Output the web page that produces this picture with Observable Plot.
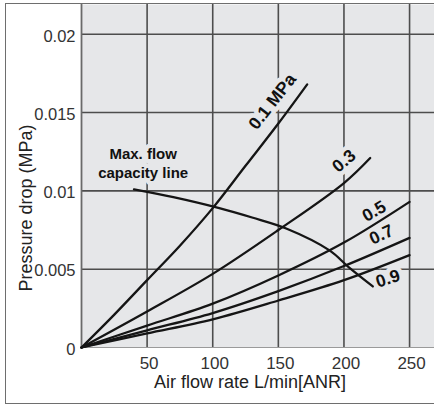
<!DOCTYPE html>
<html>
<head>
<meta charset="utf-8">
<script src="https://cdn.jsdelivr.net/npm/d3@7"></script>
<script src="https://cdn.jsdelivr.net/npm/@observablehq/plot@0.6"></script>
<style>
  html, body { margin: 0; padding: 0; background: #fff; }
  #wrap { position: relative; width: 434px; height: 406px; overflow: hidden; }
  #border { position: absolute; left: 5px; top: 3px; width: 440px; height: 399px;
            border: 1.5px solid #6e6e6e; pointer-events: none; }
</style>
</head>
<body>
<div id="wrap"><div id="chart"></div><div id="border"></div></div>
<script>
// ---- data ----
const xTicks = [50, 100, 150, 200, 250];
const yTicks = [0, 0.005, 0.01, 0.015, 0.02];

const flow01 = [0, 25, 50, 75, 100, 125, 150, 172];
const drop01 = [0, 0.0021, 0.0043, 0.0065, 0.0089, 0.0116, 0.0143, 0.0168];

const flow03 = [0, 50, 100, 150, 200, 220];
const drop03 = [0, 0.0023, 0.0047, 0.0075, 0.0105, 0.0121];

const flowHi = [0, 50, 100, 150, 200, 250];
const drop05 = [0, 0.0014, 0.0028, 0.0046, 0.0067, 0.0093];
const drop07 = [0, 0.0011, 0.0022, 0.0036, 0.0052, 0.0070];
const drop09 = [0, 0.0009, 0.0018, 0.0030, 0.0043, 0.0059];

const maxFlowX = [40, 70, 105, 130, 156, 189, 204, 222];
const maxFlowY = [0.0101, 0.0096, 0.0089, 0.0083, 0.0076, 0.0062, 0.0051, 0.0039];

const curveLabels = ["0.1 MPa", "0.3", "0.5", "0.7", "0.9"];
const curveLabelX = [145.5, 200, 223, 228.5, 233.5];
const curveLabelY = [0.0157, 0.0119, 0.0087, 0.0072, 0.0044];
const curveLabelAngle = [-52, -40, -30, -25, -18];

const maxFlowLabel = ["Max. flow\ncapacity line"];
const maxFlowLabelX = [47];
const maxFlowLabelY = [0.0118];

const xLabel = "Air flow rate L/min[ANR]";
const yLabel = "Pressure drop (MPa)";

// ---- build tables ----
const series = [
  ...flow01.map((x, i) => ({x, y: drop01[i], p: "0.1"})),
  ...flow03.map((x, i) => ({x, y: drop03[i], p: "0.3"})),
  ...flowHi.map((x, i) => ({x, y: drop05[i], p: "0.5"})),
  ...flowHi.map((x, i) => ({x, y: drop07[i], p: "0.7"})),
  ...flowHi.map((x, i) => ({x, y: drop09[i], p: "0.9"}))
];
const maxFlow = maxFlowX.map((x, i) => ({x, y: maxFlowY[i]}));
const labels = curveLabels.map((t, i) => ({t, x: curveLabelX[i], y: curveLabelY[i], a: curveLabelAngle[i]}));
const mfLabel = maxFlowLabel.map((t, i) => ({t, x: maxFlowLabelX[i], y: maxFlowLabelY[i]}));

const BG = "#e6e7e9";
const GRID = "#4d4d4d";
const INK = "#151515";
const FONT = "'Liberation Sans', Arial, Helvetica, sans-serif";

const chart = Plot.plot({
  width: 434,
  height: 406,
  marginLeft: 81,
  marginRight: 0,
  marginTop: 4,
  marginBottom: 59,
  style: {fontFamily: FONT, background: "transparent", overflow: "visible"},
  x: {domain: [0, 269]},
  y: {domain: [0, 0.0219]},
  marks: [
    Plot.frame({fill: BG, stroke: null}),
    Plot.gridX(xTicks, {stroke: GRID, strokeOpacity: 1, strokeWidth: 1.6}),
    Plot.gridY(yTicks.filter(d => d > 0), {stroke: GRID, strokeOpacity: 1, strokeWidth: 1.6}),
    Plot.ruleX([0], {stroke: "#6a6a6a", strokeWidth: 1.8}),
    Plot.ruleY([0], {stroke: "#9a9a9a", strokeWidth: 1}),
    // halos behind labels (interrupt the grid like in the reference)
    Plot.text(labels, {x: "x", y: "y", text: "t", rotate: "a", fontSize: 17.5, fontWeight: "bold",
      fill: BG, stroke: BG, strokeWidth: 9}),
    Plot.text(mfLabel, {x: "x", y: "y", text: "t", fontSize: 15, fontWeight: "bold", lineHeight: 1.27,
      fill: BG, stroke: BG, strokeWidth: 9}),
    // curves
    Plot.line(series, {x: "x", y: "y", z: "p", stroke: INK, strokeWidth: 2.3, curve: "catmull-rom"}),
    Plot.line(maxFlow, {x: "x", y: "y", stroke: INK, strokeWidth: 2.3, curve: "catmull-rom"}),
    // labels
    Plot.text(labels, {x: "x", y: "y", text: "t", rotate: "a", fontSize: 17.5, fontWeight: "bold", fill: "#111"}),
    Plot.text(mfLabel, {x: "x", y: "y", text: "t", fontSize: 15, fontWeight: "bold", lineHeight: 1.27, fill: "#111"}),
    // axes
    Plot.axisX(xTicks, {tickSize: 0, tickPadding: 9, fontSize: 17, label: null, dx: 2, color: "#333"}),
    Plot.axisY(yTicks, {tickSize: 0, tickPadding: 6, fontSize: 16.5, label: null, dy: 2, color: "#333",
      tickFormat: d => d === 0 ? "0" : String(d)}),
    Plot.text([xLabel], {frameAnchor: "bottom", textAnchor: "middle", dy: 40, dx: -8, fontSize: 18, fill: "#222"}),
    Plot.text([yLabel], {frameAnchor: "left", textAnchor: "middle", dx: -55, dy: 32, rotate: -90, fontSize: 18, fill: "#222"})
  ]
});
document.getElementById("chart").appendChild(chart);
</script>
</body>
</html>
